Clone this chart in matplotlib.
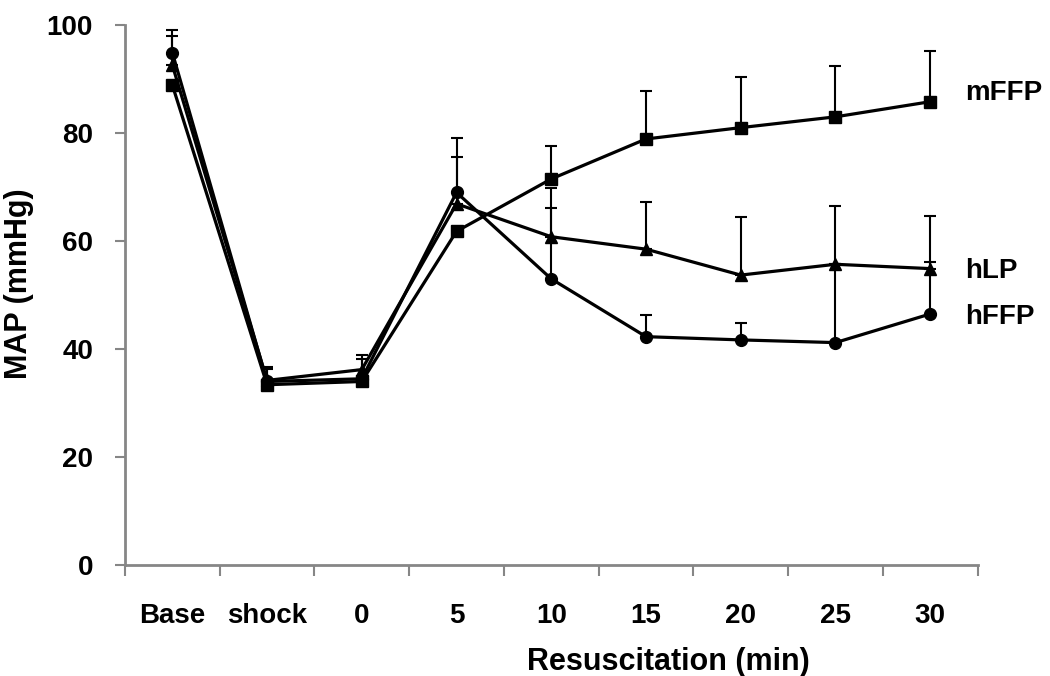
import numpy as np
import matplotlib
matplotlib.use('Agg')
import matplotlib.pyplot as plt

# categories along the x axis
categories = ['Base', 'shock', '0', '5', '10', '15', '20', '25', '30']

# mean MAP values (mmHg) per group
mffp = [88.9, 33.4, 34.0, 61.8, 71.5, 78.9, 81.0, 83.0, 85.8]
hlp = [92.6, 34.2, 36.2, 66.9, 60.8, 58.5, 53.7, 55.7, 54.9]
hffp = [94.9, 34.0, 34.5, 69.0, 53.0, 42.3, 41.7, 41.2, 46.5]

# upper error bars
mffp_err = [0.0, 0.0, 0.0, 0.0, 6.1, 8.9, 9.4, 9.5, 9.3]
hlp_err = [5.4, 2.2, 2.7, 8.7, 9.1, 8.7, 10.7, 10.8, 9.8]
hffp_err = [4.2, 2.7, 3.6, 10.1, 13.2, 4.0, 3.2, 14.5, 9.7]

plt.rcParams['font.family'] = ['Liberation Sans', 'DejaVu Sans']

fig = plt.figure(figsize=(10.5, 6.76), dpi=100)
ax = fig.add_axes([0.119, 0.164, 0.812, 0.799])

x = np.arange(len(categories))
series = [
    (mffp, mffp_err, 's'),
    (hlp, hlp_err, '^'),
    (hffp, hffp_err, 'o'),
]
for vals, err, mk in series:
    yerr = [np.zeros(len(err)), err]
    ax.errorbar(x, vals, yerr=yerr, color='black', marker=mk, markersize=8.5,
                linewidth=2.3, elinewidth=1.5, capsize=4.5, capthick=1.5)

# series labels at right end
ax.text(8.37, 87.4, 'mFFP', fontsize=20, fontweight='bold', va='center')
ax.text(8.37, 54.5, 'hLP', fontsize=20, fontweight='bold', va='center')
ax.text(8.37, 46.0, 'hFFP', fontsize=20, fontweight='bold', va='center')

ax.set_xlim(-0.5, 8.5)
ax.set_ylim(0, 100)
ax.set_yticks([0, 20, 40, 60, 80, 100])
ax.set_xticks(np.arange(-0.5, 9.0, 1.0))
ax.set_xticklabels([])
ax.set_xticks(x, minor=True)
ax.set_xticklabels(categories, minor=True)
ax.tick_params(axis='x', which='major', direction='out', length=8, width=1.5, color='#868686')
ax.tick_params(axis='x', which='minor', length=0, pad=27, labelsize=20)
ax.tick_params(axis='y', direction='out', length=7, width=1.5, color='#868686', labelsize=20, pad=16)
for lab in ax.get_xticklabels(minor=True) + ax.get_yticklabels():
    lab.set_fontweight('bold')

for side in ['top', 'right']:
    ax.spines[side].set_visible(False)
for side in ['left', 'bottom']:
    ax.spines[side].set_color('#868686')
    ax.spines[side].set_linewidth(2)

fig.text(0.018, 0.58, 'MAP (mmHg)', fontsize=22, fontweight='bold', rotation=90,
         ha='center', va='center')
fig.text(0.637, 0.009, 'Resuscitation (min)', fontsize=22, fontweight='bold', ha='center',
         va='baseline')

fig.savefig('out.png', dpi=100)
